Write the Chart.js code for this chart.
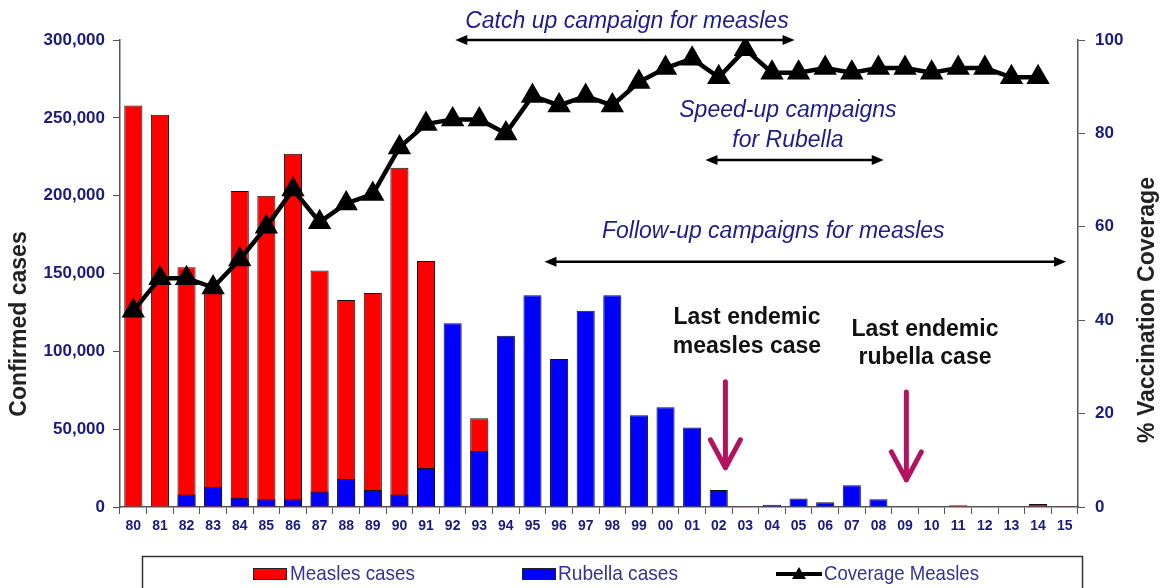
<!DOCTYPE html>
<html>
<head>
<meta charset="utf-8">
<script src="https://cdn.jsdelivr.net/npm/chart.js@4.4.1/dist/chart.umd.min.js"></script>
<style>
  html, body { margin: 0; padding: 0; background: #fff; }
  canvas { display: block; }
</style>
</head>
<body>
<canvas id="chart" width="1164" height="588"></canvas>
<script>
const years = ["80","81","82","83","84","85","86","87","88","89","90","91","92","93","94","95","96","97","98","99","00","01","02","03","04","05","06","07","08","09","10","11","12","13","14","15"];

const measlesCases = [258000, 252000, 154000, 138000, 203000, 200000, 227000, 152000, 133000, 137500, 218000, 158000,
  null, 57000, null, null, null, null, null, null, null, null, null,
  500, 200, 300, 200, 200, 200, 200, 200, 1200, 300, 300, 2000, 600];

const rubellaCases = [null, null, 8000, 13000, 6000, 5000, 5000, 10000, 18000, 11000, 8000, 25000,
  118000, 36000, 110000, 136000, 95000, 126000, 136000, 59000, 64000, 51000, 11000,
  300, 1500, 5500, 3000, 14000, 5000, null, null, null, null, null, null, null];

const coverageMeasles = [42, 49, 49, 47, 53, 60, 68, 61, 65, 67, 77, 82, 83, 83, 80, 88, 86, 88, 86, 91, 94, 96, 92, 98,
  93, 93, 94, 93, 94, 94, 93, 94, 94, 92, 92, null];

const navy = "#1a1a80";
const annBlue = "#1c1c8e";
const font = "'Liberation Sans', Arial, sans-serif";

// campaign notes, anchored on category index and % coverage
const campaignNotes = [
  { lines: ["Catch up campaign for measles"], x: 18.55, y: [103.9], arrow: [12.1, 24.85, 100] },
  { lines: ["Speed-up campaigns", "for Rubella"], x: 24.6, y: [84.8, 78.4], arrow: [21.5, 28.2, 74.3] },
  { lines: ["Follow-up campaigns for measles"], x: 24.05, y: [58.9], arrow: [15.45, 35.05, 52.5] }
];
const endemicNotes = [
  { lines: ["Last endemic", "measles case"], x: 23.06, y: [40.5, 34.3], arrowX: 22.25, from: 26.8, to: 8.4 },
  { lines: ["Last endemic", "rubella case"], x: 29.75, y: [37.9, 31.9], arrowX: 29.05, from: 24.6, to: 5.8 }
];

const legendItems = [
  { label: "Measles cases", kind: "bar", color: "#ff0000", box: 253, text: 290, w: 125 },
  { label: "Rubella cases", kind: "bar", color: "#0000ff", box: 522, text: 558, w: 120 },
  { label: "Coverage Measles", kind: "line", color: "#000", box: 776, text: 824, w: 155 }
];

function doubleArrow(ctx, x1, x2, y) {
  ctx.save();
  ctx.strokeStyle = "#000";
  ctx.fillStyle = "#000";
  ctx.lineWidth = 2.5;
  ctx.beginPath();
  ctx.moveTo(x1 + 6, y);
  ctx.lineTo(x2 - 6, y);
  ctx.stroke();
  ctx.beginPath();
  ctx.moveTo(x1, y); ctx.lineTo(x1 + 12, y - 5); ctx.lineTo(x1 + 12, y + 5); ctx.closePath();
  ctx.moveTo(x2, y); ctx.lineTo(x2 - 12, y - 5); ctx.lineTo(x2 - 12, y + 5); ctx.closePath();
  ctx.fill();
  ctx.restore();
}

function downArrow(ctx, x, y1, y2) {
  ctx.save();
  ctx.strokeStyle = "#b3125f";
  ctx.lineWidth = 5;
  ctx.lineCap = "round";
  ctx.lineJoin = "round";
  ctx.beginPath();
  ctx.moveTo(x, y1);
  ctx.lineTo(x, y2);
  ctx.moveTo(x - 15, y2 - 28);
  ctx.lineTo(x, y2);
  ctx.lineTo(x + 15, y2 - 28);
  ctx.stroke();
  ctx.restore();
}

const overlay = {
  id: "overlay",
  afterDraw(chart) {
    const { ctx, scales: { x, y1 } } = chart;
    const px = i => x.getPixelForValue(i);
    const py = v => y1.getPixelForValue(v);

    ctx.save();
    ctx.textAlign = "center";
    ctx.textBaseline = "middle";

    ctx.font = "italic 23px " + font;
    ctx.fillStyle = annBlue;
    campaignNotes.forEach(n => {
      n.lines.forEach((t, k) => ctx.fillText(t, px(n.x), py(n.y[k])));
      doubleArrow(ctx, px(n.arrow[0]), px(n.arrow[1]), py(n.arrow[2]));
    });

    ctx.font = "bold 23px " + font;
    ctx.fillStyle = "#111";
    endemicNotes.forEach(n => {
      n.lines.forEach((t, k) => ctx.fillText(t, px(n.x), py(n.y[k])));
      downArrow(ctx, px(n.arrowX), py(n.from), py(n.to));
    });

    // axis titles
    ctx.font = "bold 23px " + font;
    ctx.fillStyle = "#222";
    ctx.save();
    ctx.translate(20, 324);
    ctx.rotate(-Math.PI / 2);
    ctx.fillText("Confirmed cases", 0, 0);
    ctx.restore();
    ctx.save();
    ctx.translate(1148, 310);
    ctx.rotate(-Math.PI / 2);
    ctx.fillText("% Vaccination Coverage", 0, 0);
    ctx.restore();

    // legend box
    ctx.strokeStyle = "#333";
    ctx.lineWidth = 1.5;
    ctx.strokeRect(142.5, 556.5, 940, 50);
    ctx.textAlign = "left";
    ctx.font = "21px " + font;
    const ly = 574;
    legendItems.forEach(it => {
      if (it.kind === "bar") {
        ctx.fillStyle = it.color;
        ctx.fillRect(it.box, ly - 6, 34, 12);
        ctx.strokeStyle = "#222";
        ctx.lineWidth = 1;
        ctx.strokeRect(it.box + 0.5, ly - 5.5, 33, 11);
      } else {
        ctx.strokeStyle = "#000";
        ctx.lineWidth = 4;
        ctx.beginPath();
        ctx.moveTo(it.box, ly);
        ctx.lineTo(it.box + 46, ly);
        ctx.stroke();
        ctx.fillStyle = "#000";
        ctx.beginPath();
        ctx.moveTo(it.box + 23, ly - 7);
        ctx.lineTo(it.box + 30, ly + 5);
        ctx.lineTo(it.box + 16, ly + 5);
        ctx.closePath();
        ctx.fill();
      }
      ctx.fillStyle = "#33339a";
      ctx.fillText(it.label, it.text, ly, it.w);
    });
    ctx.restore();
  }
};

const ctx = document.getElementById("chart").getContext("2d");

new Chart(ctx, {
  type: "bar",
  data: {
    labels: years,
    datasets: [
      {
        type: "line",
        label: "Coverage Measles",
        data: coverageMeasles,
        yAxisID: "y1",
        borderColor: "#000",
        backgroundColor: "#000",
        borderWidth: 4.5,
        pointStyle: "triangle",
        pointRadius: 9,
        pointBackgroundColor: "#000",
        pointBorderColor: "#000",
        tension: 0,
        order: 0
      },
      {
        label: "Rubella cases",
        data: rubellaCases,
        yAxisID: "y",
        backgroundColor: "#0000ff",
        borderColor: "#111",
        borderWidth: 1,
        grouped: false,
        barPercentage: 0.68,
        categoryPercentage: 1,
        order: 1
      },
      {
        label: "Measles cases",
        data: measlesCases,
        yAxisID: "y",
        backgroundColor: "#ff0000",
        borderColor: "#111",
        borderWidth: 1,
        grouped: false,
        barPercentage: 0.68,
        categoryPercentage: 1,
        order: 2
      }
    ]
  },
  options: {
    responsive: false,
    animation: false,
    layout: { padding: { top: 40, bottom: 32, left: 0, right: 0 } },
    plugins: {
      legend: { display: false },
      tooltip: { enabled: false }
    },
    scales: {
      x: {
        grid: { drawOnChartArea: false, tickLength: 7, color: "#555", offset: true },
        border: { color: "#555", width: 1.5 },
        ticks: { color: navy, font: { family: font, size: 14, weight: "bold" }, padding: 4, autoSkip: false, maxRotation: 0 },
        afterFit: s => { s.height = 49; }
      },
      y: {
        position: "left",
        min: 0,
        max: 300000,
        grid: { drawOnChartArea: false, tickLength: 7, color: "#555" },
        border: { color: "#555", width: 1.5 },
        ticks: {
          stepSize: 50000,
          color: navy,
          padding: 8,
          font: { family: font, size: 17, weight: "bold" },
          callback: v => v.toLocaleString("en-US")
        },
        afterFit: s => { s.width = 120; }
      },
      y1: {
        position: "right",
        min: 0,
        max: 100,
        grid: { drawOnChartArea: false, tickLength: 7, color: "#555" },
        border: { color: "#555", width: 1.5 },
        ticks: { stepSize: 20, color: navy, padding: 10, font: { family: font, size: 17, weight: "bold" } },
        afterFit: s => { s.width = 86; }
      }
    }
  },
  plugins: [overlay]
});
</script>
</body>
</html>
